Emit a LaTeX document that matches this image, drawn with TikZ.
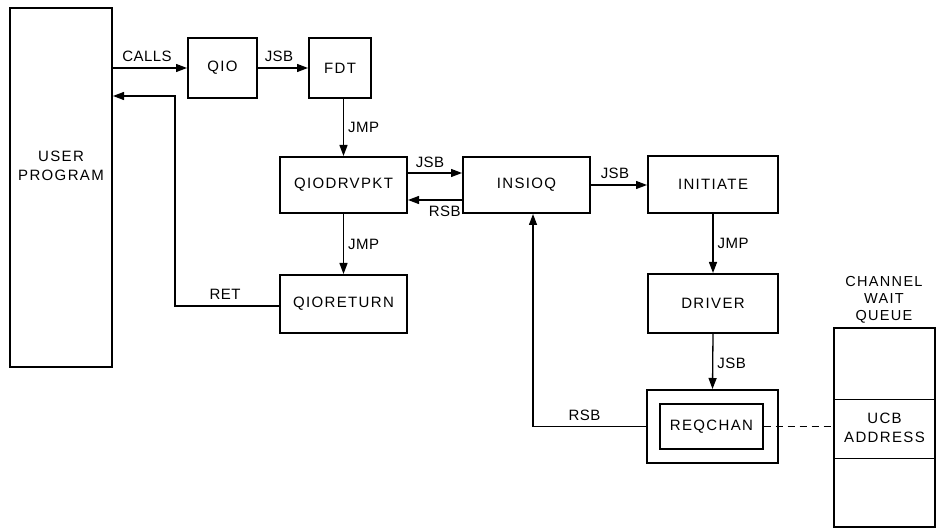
\documentclass[tikz,border=0pt]{standalone}
\usepackage{fontspec}
\setmainfont{Liberation Sans}
\newfontfamily\boxfont{Liberation Sans}[LetterSpace=9]
\newfontfamily\lblfont{Liberation Sans}[LetterSpace=3]
\usetikzlibrary{arrows.meta,calc}
\begin{document}
\begin{tikzpicture}[x=1pt,y=-1pt,
  box/.style={draw,line width=2pt,inner sep=0pt,font=\boxfont\fontsize{15}{17}\selectfont},
  thinbox/.style={draw,line width=1.3pt,inner sep=0pt,font=\boxfont\fontsize{15}{17}\selectfont},
  conn/.style={line width=1.3pt},
  arr/.style={conn,-{Triangle[length=11pt,width=8pt]}},
  lbl/.style={font=\lblfont\fontsize{15}{17}\selectfont,inner sep=0pt},
  txt/.style={font=\boxfont\fontsize{15}{19}\selectfont,align=center,inner sep=0pt}]
\useasboundingbox (0,0) rectangle (945,529);
% boxes
\node[box,minimum width=102pt,minimum height=359pt] (user) at (61,187.5) {};
\node[txt] (userlbl) at (61,166) {USER\\PROGRAM};
\node[box,minimum width=69pt,minimum height=60pt] (qio) at (222.5,68) {QIO};
\node[box,minimum width=62pt,minimum height=60pt] (fdt) at (340,68) {FDT};
\node[box,minimum width=127pt,minimum height=56pt] (qiodrv) at (343.5,185) {QIODRVPKT};
\node[box,minimum width=127pt,minimum height=56pt] (insioq) at (526.5,185) {INSIOQ};
\node[box,minimum width=130pt,minimum height=57pt] (initiate) at (713,184.5) {INITIATE};
\node[box,minimum width=127pt,minimum height=58pt] (qioret) at (343.5,304) {QIORETURN};
\node[box,minimum width=130pt,minimum height=59pt] (driver) at (713,303.5) {DRIVER};
\node[box,minimum width=131pt,minimum height=73pt] (reqout) at (712.5,426.5) {};
\node[thinbox,minimum width=103pt,minimum height=45pt] (reqin) at (711.5,426.5) {REQCHAN};
\node[box,line width=1.7pt,minimum width=101pt,minimum height=199pt] (queue) at (884.5,427.5) {};
\draw[line width=1pt] (queue.west |- 0,399) coordinate (qd1) -- (qd1 -| queue.east);
\draw[line width=1pt] (queue.west |- 0,458) coordinate (qd2) -- (qd2 -| queue.east);
\node[txt] (ucb) at (884.5,427.5) {UCB\\ADDRESS};
\node[txt,font=\boxfont\fontsize{14.5}{17}\selectfont] (cwq) at (884,300) {CHANNEL\\WAIT\\QUEUE};
% connectors
\draw[arr] (user.east |- qio.west) -- node[lbl,above=6pt,xshift=-3pt] {CALLS} (qio.west);
\draw[arr] (qio.east) -- node[lbl,above=6pt,xshift=-4pt] {JSB} (fdt.west);
\coordinate (retc) at (175,96);
\draw[arr] ([yshift=-2pt]qioret.west) -| node[lbl,pos=0.25,above=6pt,xshift=-2pt] {RET} (retc) -- (user.east |- retc);
\draw[arr] (fdt.south -| qiodrv.north) -- node[lbl,right=4pt] {JMP} (qiodrv.north);
\draw[arr] ([yshift=12pt]qiodrv.east) -- node[lbl,above=5pt,xshift=-5pt] {JSB} ([yshift=12pt]insioq.west);
\draw[arr] ([yshift=-15pt]insioq.west) -- ([yshift=-15pt]qiodrv.east) node[lbl,pos=0.32,below=5pt] {RSB};
\draw[arr] (insioq.east) -- node[lbl,above=6pt,xshift=-4pt] {JSB} (insioq.east -| initiate.west);
\draw[arr] (qiodrv.south) -- node[lbl,right=4pt] {JMP} (qioret.north);
\draw[arr] (initiate.south) -- node[lbl,right=4pt] {JMP} (driver.north);
\draw[arr] (driver.south) -- node[lbl,right=4pt,yshift=-2pt] {JSB} (reqout.north);
\coordinate (rsbc) at (533,426.5);
\draw[arr] (reqout.west) -- node[lbl,above=5pt,xshift=-5pt] {RSB} (rsbc) -- (rsbc |- insioq.south);
\draw[conn,dash pattern=on 7pt off 5pt] (reqin.east) -- (reqin.east -| queue.west);
\end{tikzpicture}
\end{document}
